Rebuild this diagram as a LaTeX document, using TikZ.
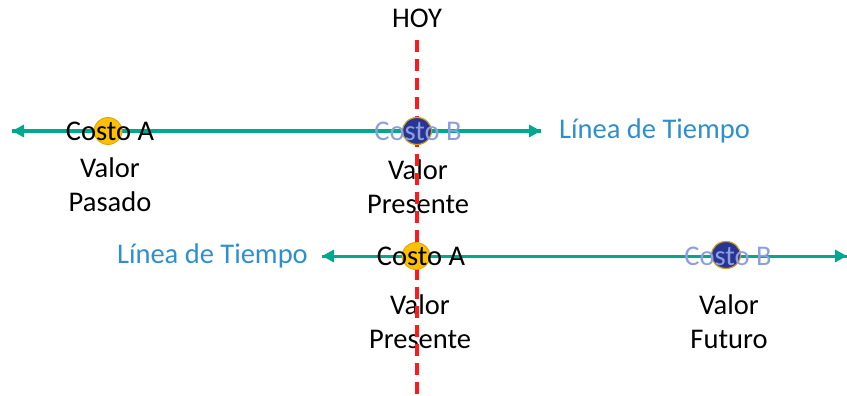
\documentclass[tikz,border=0pt]{standalone}
\usepackage{fontspec}
\setmainfont{Carlito}
\usetikzlibrary{arrows.meta,shapes.geometric}
\definecolor{tlTeal}{HTML}{00A88F}
\definecolor{tlLabel}{HTML}{2E8FCF}
\definecolor{hoyRed}{HTML}{FF1A1A}
\definecolor{costA}{HTML}{FFC000}
\definecolor{costAline}{HTML}{E0A000}
\definecolor{costB}{HTML}{283593}
\definecolor{costBline}{HTML}{C9A227}
\definecolor{costBtext}{HTML}{8E9FE0}
\tikzset{
    timeline/.style={line width=3pt,tlTeal,-{Triangle[length=12pt,width=12pt]}},
    hoyline/.style={line width=4pt,hoyRed,dash pattern=on 12pt off 7pt},
    dotA/.style={ellipse,fill=costA,draw=costAline,line width=0.8pt,minimum width=28pt,minimum height=27pt,inner sep=0pt},
    dotB/.style={ellipse,fill=costB,draw=costBline,line width=1.2pt,minimum width=29pt,minimum height=27pt,inner sep=0pt},
    txt/.style={font=\fontsize{28.5}{34}\selectfont,inner sep=0pt,align=center},
    tllabel/.style={txt,text=tlLabel}
}
\begin{document}
\begin{tikzpicture}[x=1pt,y=-1pt]
  \useasboundingbox (0,0) rectangle (847,396);

  % Top line (past and present)
  \coordinate (top_l) at (12,131);
  \coordinate (top_r) at (541,131);
  \draw[timeline] (top_r) -- (top_l);
  \draw[timeline] (top_l) -- (top_r);
  \node[tllabel,anchor=west] (top_label) at (559,131) {Línea de Tiempo};

  % Bottom line (present and future)
  \coordinate (bot_l) at (322,256);
  \coordinate (bot_r) at (847,256);
  \draw[timeline] (bot_r) -- (bot_l);
  \draw[timeline] (bot_l) -- (bot_r);
  \node[tllabel,anchor=east] (bot_label) at (308,256) {Línea de Tiempo};

  % Value texts
  \node[txt] (past) at (110,185) {Valor\\Pasado};
  \node[txt] (pres_top) at (418,187) {Valor\\Presente};
  \node[txt] (pres_bot) at (420,322) {Valor\\Presente};
  \node[txt] (fut) at (729,322) {Valor\\Futuro};

  % Today marker
  \node[txt] (hoy) at (417,18) {HOY};
  \coordinate (hoy_end) at (417,396);
  \draw[hoyline] ([yshift=-22pt]hoy.center) -- (hoy_end);

  % Costs on the lines
  \node[dotA] (dot_a1) at (108,131) {};
  \node[dotB] (dot_b1) at (417,131) {};
  \node[dotA] (dot_a2) at (416,256) {};
  \node[dotB] (dot_b2) at (726,255) {};
  \node[txt] (cost_a1) at (110,131) {Costo A};
  \node[txt,text=costBtext] (cost_b1) at (418,131) {Costo B};
  \node[txt] (cost_a2) at (421,256) {Costo A};
  \node[txt,text=costBtext] (cost_b2) at (728,256) {Costo B};
\end{tikzpicture}
\end{document}
